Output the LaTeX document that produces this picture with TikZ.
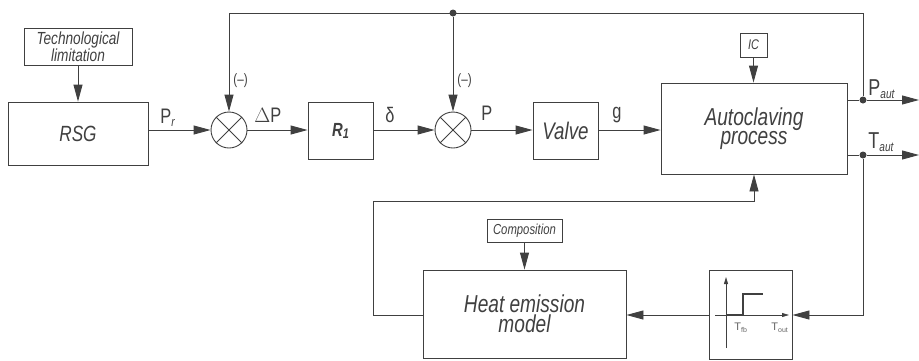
\documentclass[tikz,border=0pt]{standalone}
\usepackage{fontspec}
\setmainfont{Liberation Sans}[FakeStretch=0.78]
\newfontfamily\plainf{Liberation Sans}
\usetikzlibrary{arrows.meta}
\tikzset{
  blk/.style={draw, rectangle, inner sep=0pt, align=center},
  sumj/.style={draw, circle, minimum size=36pt, inner sep=0pt},
  dotn/.style={circle, fill, inner sep=0pt, minimum size=7pt},
  sig/.style={-{Triangle[length=17pt,width=9pt]}},
  smallsig/.style={-{Triangle[length=7pt,width=4pt]}},
  lbl/.style={font=\fontsize{21}{21}\selectfont, inner sep=0pt},
  outlbl/.style={font=\fontsize{23}{23}\selectfont, inner sep=0pt},
  bigtxt/.style={font=\itshape\fontsize{24.5}{20}\selectfont},
  minus/.style={font=\fontsize{15}{15}\selectfont, inner sep=0pt, anchor=west},
}
\newcommand{\subit}[1]{\raisebox{-3pt}{\fontsize{13}{13}\selectfont\itshape #1}}
\begin{document}
\begin{tikzpicture}[x=1pt, y=-1pt, line width=0.9pt, color=black!75]
\useasboundingbox (0,0) rectangle (919,360);

% blocks
\node[blk, minimum width=108pt, minimum height=37pt, font=\itshape\fontsize{17.5}{15}\selectfont] (tech) at (78,46.5) {Technological\\limitation};
\node[blk, minimum width=140pt, minimum height=63pt, font=\itshape\fontsize{22}{22}\selectfont] (rsg) at (78,133.5) {RSG};
\node[sumj] (s1) at (229,130) {};
\node[blk, minimum width=65pt, minimum height=57pt, font=\itshape\bfseries\fontsize{19}{19}\selectfont] (r1) at (340.5,130.5) {R\raisebox{-2pt}{\fontsize{14}{14}\selectfont 1}};
\node[sumj] (s2) at (453,130) {};
\node[blk, minimum width=65pt, minimum height=57pt, font=\itshape\fontsize{24}{24}\selectfont] (valve) at (565.5,130.5) {Valve};
\node[blk, minimum width=186pt, minimum height=91pt, font=\itshape\fontsize{24.5}{16}\selectfont] (auto) at (754,128.5) {Autoclaving\\process};
\node[blk, minimum width=27pt, minimum height=24pt, font=\itshape\fontsize{14}{14}\selectfont] (ic) at (753.5,45) {IC};
\node[blk, minimum width=203pt, minimum height=88pt, bigtxt] (heat) at (524.5,314) {Heat emission\\model};
\node[blk, minimum width=75pt, minimum height=23pt, font=\itshape\fontsize{14.5}{14}\selectfont] (comp) at (524.5,230.5) {Composition};
\node[blk, minimum width=83pt, minimum height=89pt] (step) at (750.5,314.5) {};

% summing junction crosses
\foreach \s in {s1,s2} {
  \draw (\s.45) -- (\s.225);
  \draw (\s.135) -- (\s.315);
}

% dots and coordinates
\node[dotn] (topdot) at (453,13) {};
\node[dotn] (pdot) at (863,100) {};
\node[dotn] (tdot) at (863,155) {};
\coordinate (tl) at (229,13);
\coordinate (tr) at (863,13);
\coordinate (pend) at (919,100);
\coordinate (tend) at (919,155);
\coordinate (br) at (863,315);
\coordinate (hl) at (373,315);
\coordinate (hlt) at (373,201);
\coordinate (hrt) at (754,201);

% connectors
\draw[sig] (tech) -- (rsg);
\draw[sig] (rsg.east |- s1) -- (s1.west);
\draw[sig] (s1.east) -- (r1.west |- s1);
\draw[sig] (r1.east |- s2) -- (s2.west);
\draw[sig] (s2.east) -- (valve.west |- s2);
\draw[sig] (valve.east |- s2) -- (auto.west |- s2);
\draw[sig] (ic) -- (auto.north -| ic);
\draw (auto.east |- pdot) -- (pdot);
\draw (auto.east |- tdot) -- (tdot);
\draw[sig] (pdot) -- (pend);
\draw[sig] (tdot) -- (tend);
\draw (pdot) -- (tr) -- (tl);
\draw[sig] (tl) -- (s1.north);
\draw[sig] (topdot) -- (s2.north);
\draw[sig] (tdot) -- (br) -- (step.east |- br);
\draw[sig] (step.west |- br) -- (heat.east |- br);
\draw[sig] (comp) -- (heat);
\draw[sig] (heat.west |- hl) -- (hl) -- (hlt) -- (hrt) -- (auto.south -| hrt);

% step characteristic inside
\draw[smallsig, line width=0.8pt] (726,348) -- (726,277);
\draw[smallsig, line width=0.8pt] (715,315) -- (789,315);
\draw[line width=1.2pt] (726,315) -- (743,315) -- (743,294) -- (763,294);
\node[font=\plainf\fontsize{11}{11}\selectfont, color=black!60, inner sep=0pt, anchor=base west] (tfb) at (734,330) {T\raisebox{-2pt}{\fontsize{7}{7}\selectfont fb}};
\node[font=\plainf\fontsize{11}{11}\selectfont, color=black!60, inner sep=0pt, anchor=base west] (tot) at (771,330) {T\raisebox{-2pt}{\fontsize{7}{7}\selectfont out}};

% signal labels
\node[lbl, anchor=base west] (lpr) at (160,123) {P\subit{r}};
\node[lbl, anchor=base west] (ldp) at (254,122) {$\Delta$P};
\node[lbl, anchor=base west] (ldl) at (385,122) {δ};
\node[lbl, anchor=base west] (lp) at (481,120) {P};
\node[lbl, anchor=base west] (lg) at (612,118) {g};
\node[outlbl, anchor=base west] (lpo) at (868,95) {P\subit{aut}};
\node[outlbl, anchor=base west] (lto) at (868,148) {T\subit{aut}};
\node[minus] (m1) at (233,81) {(–)};
\node[minus] (m2) at (457,81) {(–)};
\end{tikzpicture}
\end{document}
